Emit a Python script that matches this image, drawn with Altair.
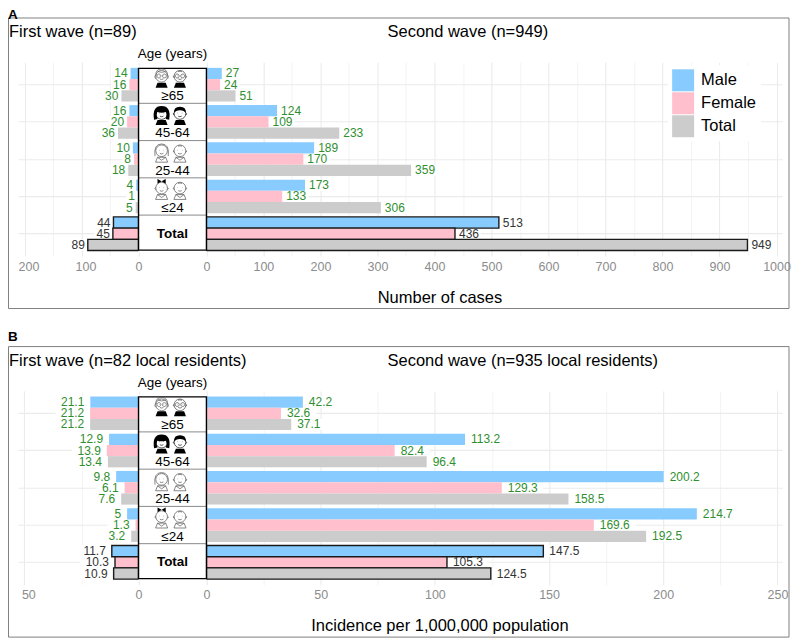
import altair as alt
import pandas as pd

ages = ["≥65", "45-64", "25-44", "≤24", "Total"]
sexes = ["Male", "Female", "Total"]
colors = ["#87CBFF", "#FFBFCC", "#CCCCCC"]

a_first_male = [14, 16, 10, 4, 44]
a_first_female = [16, 20, 8, 1, 45]
a_first_total = [30, 36, 18, 5, 89]
a_second_male = [27, 124, 189, 173, 513]
a_second_female = [24, 109, 170, 133, 436]
a_second_total = [51, 233, 359, 306, 949]

b_first_male = [21.1, 12.9, 9.8, 5, 11.7]
b_first_female = [21.2, 13.9, 6.1, 1.3, 10.3]
b_first_total = [21.2, 13.4, 7.6, 3.2, 10.9]
b_second_male = [42.2, 113.2, 200.2, 214.7, 147.5]
b_second_female = [32.6, 82.4, 129.3, 169.6, 105.3]
b_second_total = [37.1, 96.4, 158.5, 192.5, 124.5]

FONT = "Liberation Sans"
GREEN = "#2F8F2F"
GRID = "#EBEBEB"

# icon outlines, unit box -1..1
HEAD = "M0.6,-0.25A0.6,0.6 0 1 1 -0.6,-0.25A0.6,0.6 0 1 1 0.6,-0.25Z"
EARS = "M-0.6,-0.3Q-0.8,-0.25 -0.6,-0.08M0.6,-0.3Q0.8,-0.25 0.6,-0.08"
FACE = "M-0.24,-0.3L-0.2,-0.3M0.2,-0.3L0.24,-0.3M-0.18,0.02Q0,0.14 0.18,0.02"
BODY = "M-0.62,0.92L-0.42,0.42L0.42,0.42L0.62,0.92Z"
NECK = "M-0.42,0.42L0,0.72L0.42,0.42"
BOB = "M-0.68,0.3Q-0.84,-0.95 0,-0.95Q0.84,-0.95 0.68,0.3"
GLASSES = "M-0.08,-0.28A0.2,0.2 0 1 1 -0.48,-0.28A0.2,0.2 0 1 1 -0.08,-0.28ZM0.48,-0.28A0.2,0.2 0 1 1 0.08,-0.28A0.2,0.2 0 1 1 0.48,-0.28Z"
BOBFILL = "M-0.78,0.38Q-1,-1.02 0,-1.02Q1,-1.02 0.78,0.38L0.42,0.3Q0.6,-0.1 0.45,-0.4Q0,-0.25 -0.45,-0.4Q-0.6,-0.1 -0.42,0.3Z"
CAP = "M-0.6,-0.3Q-0.66,-0.95 0,-0.95Q0.66,-0.95 0.6,-0.3Q0.45,-0.55 0,-0.58Q-0.45,-0.55 -0.6,-0.3Z"
BOW = "M0,-0.95L-0.42,-1.18L-0.42,-0.7ZM0,-0.95L0.42,-1.18L0.42,-0.7Z"
CURL = "M-0.6,-0.35Q-0.62,-1 0,-1Q0.62,-1 0.6,-0.35M-0.4,-0.75Q0,-0.55 0.42,-0.75M-0.62,0.0Q-0.78,-0.2 -0.62,-0.4M0.62,0.0Q0.78,-0.2 0.62,-0.4"
BALD = "M-0.2,-0.72Q0,-0.82 0.2,-0.72"

outline_icons = [
    ("≥65", 0, HEAD + CURL + GLASSES + FACE, "#555555"),
    ("≥65", 1, HEAD + EARS + GLASSES + FACE + BALD, "#444444"),
    ("45-64", 0, HEAD + FACE, "#111111"),
    ("45-64", 1, HEAD + EARS + FACE, "#111111"),
    ("25-44", 0, HEAD + BOB + FACE + BODY + NECK, "#555555"),
    ("25-44", 1, HEAD + EARS + FACE + BODY + NECK + BALD, "#555555"),
    ("≤24", 0, HEAD + EARS + FACE + BODY + NECK, "#555555"),
    ("≤24", 1, HEAD + EARS + FACE + BODY + NECK + BALD, "#555555"),
]
filled_icons = [
    ("≥65", 0, BODY),
    ("≥65", 1, BODY),
    ("45-64", 0, BOBFILL + BODY),
    ("45-64", 1, CAP + BODY),
    ("≤24", 0, BOW),
]


def panel(first, second, gap, xmax, left_ticks, right_ticks, minor, major,
          letter, letter_y, title_l, title_r, xtitle, dx_l, dx_r, legend):
    px = (783 - 206.7) / xmax
    rows = []
    for w, series in (("first", first), ("second", second)):
        for s, vals in zip(sexes, series):
            for a, v in zip(ages, vals):
                label = f"{v:g}"
                base = -gap if w == "first" else 0
                pos = -gap - v if w == "first" else v
                reach = (len(label) * 6.7 + abs(dx_l if w == "first" else dx_r) + 2) / px
                mask = pos - reach if w == "first" else pos + reach
                rows.append(dict(age=a, sex=s, wave=w, base=base, pos=pos, mask=mask, label=label))
    df = pd.DataFrame(rows)
    xmin = -gap - (138.7 - 18) / px

    ticks = [-gap - t for t in left_ticks] + right_ticks
    minors = [-gap - t for t in minor[0]] + minor[1]
    real = f"abs(datum.value < -{gap / 2} ? datum.value + {gap} : datum.value)"
    axis_x = alt.Axis(
        values=sorted(ticks + minors),
        labelExpr=f"({real} % {major}) > 0.001 ? '' : format({real}, 'd')",
        grid=True, gridColor=GRID,
        gridWidth={"condition": {"test": f"({real} % {major}) > 0.001", "value": 0.6}, "value": 1.1},
        labelOffset={"condition": {"test": f"datum.value < -{gap + 1}", "value": 4}, "value": 0},
        ticks=False, domain=False, labelColor="#8C8C8C", labelFontSize=12.5, labelFont=FONT,
        labelPadding=4, labelFlush=False, labelOverlap=False,
        title=xtitle, titleFont=FONT, titleFontSize=16.5, titleFontWeight="normal", titleColor="#000000",
        titleX=422, titleY=33)
    xscale = alt.Scale(domain=[xmin, xmax], nice=False, zero=False)

    def X(field):
        return alt.X(field, scale=xscale, axis=axis_x)

    axis_y = alt.Axis(grid=True, gridColor=GRID, gridWidth=1.1, labels=False, ticks=False, domain=False, title=None)
    yscale = alt.Scale(domain=ages, paddingInner=0, paddingOuter=0.1)
    y = alt.Y("age:N", sort=ages, title=None, scale=yscale, axis=axis_y)
    yo = alt.YOffset("sex:N", sort=sexes, scale=alt.Scale(domain=sexes, paddingInner=0, paddingOuter=0.16))
    leg = alt.Legend(orient="none", legendX=651, legendY=3, title=None, symbolType="square", symbolSize=484,
                     symbolStrokeWidth=0, labelFontSize=16.5, labelFont=FONT, labelColor="#000000", labelOffset=7,
                     rowPadding=1, padding=4, fillColor="#FFFFFF") if legend else None
    col = alt.Color("sex:N", scale=alt.Scale(domain=sexes, range=colors), legend=leg)
    col_off = alt.Color("sex:N", scale=alt.Scale(domain=sexes, range=colors), legend=None)

    base = alt.Chart(df)
    frame = alt.Chart(pd.DataFrame({"f": [1]})).mark_rect(fill="transparent", stroke="#7F7F7F", strokeWidth=1).encode(
        x=alt.value(-9.5), x2=alt.value(772), y=alt.value(-44.4), y2=alt.value(246.5))

    txt = alt.Text("label:N")

    def texts(w, align, dx):
        m = base.transform_filter(f"datum.wave == '{w}'").mark_text(
            align=align, baseline="middle", dx=dx, font=FONT, fontSize=12)
        return m.encode(x=X("pos:Q"), y=y, yOffset=yo, text=txt,
                        color=alt.condition("datum.age == 'Total'", alt.value("#333333"), alt.value(GREEN)))

    # white background behind the value labels, under the bars
    label_bg = base.mark_bar(fill="#FFFFFF").encode(x=X("pos:Q"), x2="mask:Q", y=y, yOffset=yo)
    bars = base.transform_filter("datum.age != 'Total'").mark_bar().encode(
        x=X("base:Q"), x2="pos:Q", y=y, yOffset=yo, color=col)
    tot = base.transform_filter("datum.age == 'Total'").mark_bar(stroke="#1A1A1A", strokeWidth=1.4).encode(
        x=X("base:Q"), x2="pos:Q", y=y, yOffset=yo, color=col_off)

    cells = pd.DataFrame({"age": ages, "base": [-gap] * 5, "end": [0] * 5})
    cell_base = alt.Chart(cells)
    white = cell_base.mark_rect(fill="#FFFFFF").encode(x=X("base:Q"), x2="end:Q", y=y)
    seps = alt.Chart(cells[cells.age != "≥65"]).mark_rule(color="#8A8A8A", strokeWidth=1).encode(
        x=X("base:Q"), x2="end:Q",
        y=alt.Y("age:N", sort=ages, title=None, scale=yscale, axis=axis_y, bandPosition=0))

    box = alt.Chart(pd.DataFrame({"f": [1]})).mark_rect(fill="transparent", stroke="#000000", strokeWidth=1.4).encode(
        x=alt.value(120.7), x2=alt.value(188.7), y=alt.value(6), y2=alt.value(188))

    age_txt = cell_base.transform_filter("datum.age != 'Total'").transform_calculate(mid=f"{-gap / 2}").mark_text(
        font=FONT, fontSize=13.5, color="#000000", baseline="middle", dy=11.5).encode(
        x=X("mid:Q"), y=y, text="age:N")
    tot_txt = cell_base.transform_filter("datum.age == 'Total'").transform_calculate(mid=f"{-gap / 2}").mark_text(
        font=FONT, fontSize=13.5, fontWeight="bold", color="#000000", baseline="middle").encode(
        x=X("mid:Q"), y=y, text="age:N")
    age_head = alt.Chart(pd.DataFrame({"t": ["Age (years)"], "v": [-gap / 2]})).mark_text(
        font=FONT, fontSize=13.5, color="#000000", baseline="middle").encode(
        x=X("v:Q"), y=alt.value(-8), text="t:N")

    ic_x = [-gap * 0.66, -gap * 0.39]
    oi = pd.DataFrame([dict(age=a, v=ic_x[i], path=p, c=c) for a, i, p, c in outline_icons])
    fi = pd.DataFrame([dict(age=a, v=ic_x[i], path=p) for a, i, p in filled_icons])
    icon_out = alt.Chart(oi).mark_point(filled=False, size=380, strokeWidth=0.7, opacity=1, yOffset=-6).encode(
        x=X("v:Q"), y=y, shape=alt.Shape("path:N", scale=None), stroke=alt.Stroke("c:N", scale=None))
    icon_fill = alt.Chart(fi).mark_point(filled=True, size=380, color="#000000", opacity=1, yOffset=-6).encode(
        x=X("v:Q"), y=y, shape=alt.Shape("path:N", scale=None))

    def head_text(t, px_x, py, size=16.5, weight="normal"):
        return alt.Chart(pd.DataFrame({"t": [t]})).mark_text(
            font=FONT, fontSize=size, fontWeight=weight, color="#000000", align="left", baseline="middle").encode(
            x=alt.value(px_x), y=alt.value(py), text="t:N")

    return alt.layer(
        frame, label_bg,
        bars, tot, white, seps, box, icon_out, icon_fill, age_txt, tot_txt, age_head,
        texts("first", "right", dx_l), texts("second", "left", dx_r),
        head_text(title_l, -9, -30), head_text(title_r, 370, -30),
        head_text(letter, -10, letter_y, 13.5, "bold"),
    ).properties(width=765, height=194)


top = panel([a_first_male, a_first_female, a_first_total],
            [a_second_male, a_second_female, a_second_total],
            119.0, 1009.6, [0, 100, 200], list(range(0, 1001, 100)),
            ([50, 150], list(range(50, 1000, 100))), 100,
            "A", -47, "First wave (n=89)", "Second wave (n=949)", "Number of cases", -3, 4, True)
bottom = panel([b_first_male, b_first_female, b_first_total],
               [b_second_male, b_second_female, b_second_total],
               29.75, 252.0, [0, 50], [0, 50, 100, 150, 200, 250],
               ([25], [25, 75, 125, 175, 225]), 50,
               "B", -54, "First wave (n=82 local residents)", "Second wave (n=935 local residents)",
               "Incidence per 1,000,000 population", -6, 6, False)

chart = alt.vconcat(top, bottom, spacing=21).resolve_scale(color="independent").properties(
    padding=0, background="#FFFFFF"
).configure_view(stroke=None)

chart.save("out.html", embed_options={"renderer": "svg", "actions": False})
